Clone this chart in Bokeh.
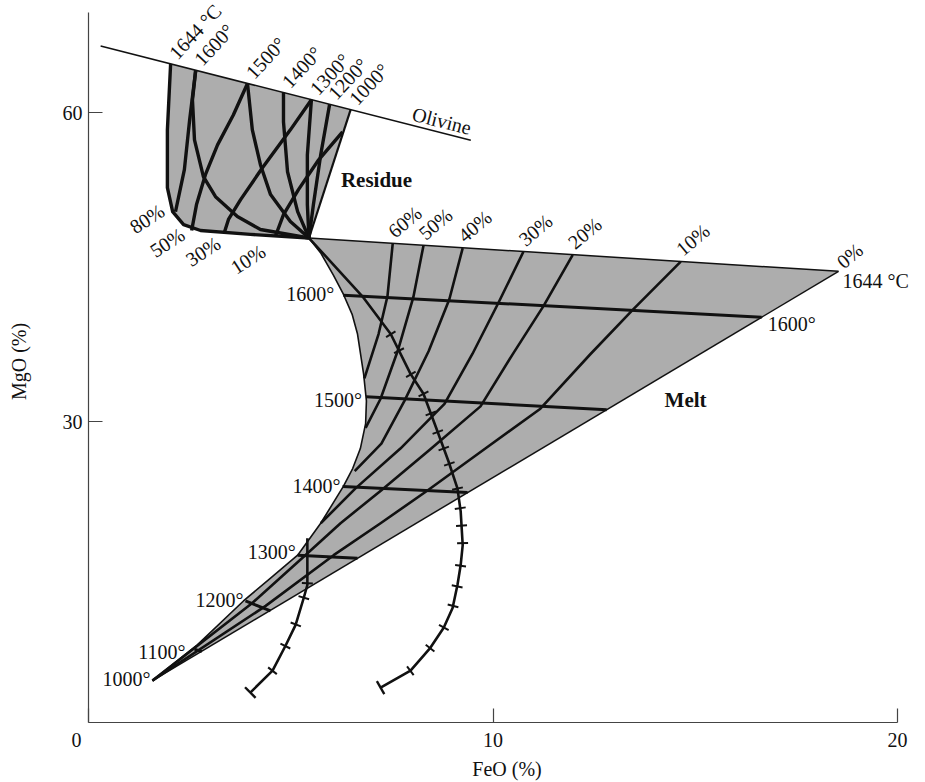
import numpy as np
from bokeh.plotting import figure
from bokeh.models import Range1d, FixedTicker, Label
from bokeh.embed import file_html
from bokeh.resources import INLINE

# ---------------------------------------------------------------- data
# Axis extents and ticks (wt %); the view runs a little past the axes
feo_range = [0.0, 20.0]
mgo_range = [0.77, 69.77]
feo_view = [0.0, 20.69]
mgo_view = [0.77, 70.93]
feo_ticks = [0, 10, 20]
mgo_ticks = [30, 60]

# Olivine compositional line
olivine_x = [0.30, 9.45]
olivine_y = [66.50, 57.35]

# Source composition: shared corner of the residue and melt fields
source_x = 5.45
source_y = 47.85

# Residue field: olivine reached at each temperature
olv_labels = ["1644 °C", "1600°", "1500°", "1400°", "1300°", "1200°", "1000°"]
olv_x = [2.03, 2.65, 3.93, 4.82, 5.51, 5.96, 6.48]
olv_y = [64.77, 64.15, 62.87, 61.98, 61.29, 60.84, 60.32]

# Residue field: lower / left boundary, from the source up to the olivine line
res_edge_x = [5.45, 4.00, 2.77, 2.35, 2.08, 1.95, 1.95, 2.03]
res_edge_y = [47.85, 48.20, 48.58, 49.16, 50.42, 52.74, 58.36, 64.77]

# Residue isotherms
res_t1600_x = [2.65, 2.57, 2.62, 2.84, 3.14, 3.68, 4.25, 5.45]
res_t1600_y = [64.15, 61.26, 57.39, 53.81, 51.87, 49.94, 48.68, 47.85]
res_t1500_x = [3.93, 4.05, 4.25, 4.50, 4.99, 5.45]
res_t1500_y = [62.87, 58.36, 54.97, 52.07, 49.45, 47.85]
res_t1400_x = [4.82, 4.82, 4.92, 5.17, 5.45]
res_t1400_y = [61.98, 59.13, 54.29, 50.42, 47.85]
res_t1300_x = [5.51, 5.41, 5.41, 5.45]
res_t1300_y = [61.29, 55.94, 51.10, 47.85]
res_t1200_x = [5.96, 5.74, 5.56, 5.45]
res_t1200_y = [60.84, 55.94, 51.10, 47.85]

# Residue lines of equal melt fraction
res_pct_labels = ["80%", "50%", "30%", "10%"]
res_f80_x = [2.65, 2.50, 2.37, 2.15]
res_f80_y = [64.15, 59.32, 54.49, 50.40]
res_f50_x = [3.93, 3.58, 3.19, 2.89, 2.67, 2.55]
res_f50_y = [62.87, 59.81, 56.90, 54.00, 51.10, 48.58]
res_f30_x = [5.51, 4.99, 4.30, 3.76, 3.46, 3.36]
res_f30_y = [61.29, 58.36, 54.68, 51.58, 49.65, 48.40]
res_f10_x = [6.28, 5.69, 5.19, 4.82, 4.62]
res_f10_y = [58.16, 55.45, 52.55, 50.13, 48.02]

# Melt field: 0 % melt edge (1644 °C corner down to the 1000° corner)
melt_right_x = [18.54, 1.58]
melt_right_y = [44.61, 4.84]

# Melt field: left boundary, from the source down to the 1000° corner
melt_left_x = [5.45, 5.74, 6.06, 6.30, 6.52, 6.65, 6.80, 6.87, 6.85, 6.72, 6.53, 6.30,
               5.74, 5.17, 4.50, 3.83, 2.69, 1.58]
melt_left_y = [47.85, 46.40, 44.20, 42.39, 40.40, 38.52, 34.65, 32.03, 29.81, 27.39, 25.45, 23.71,
               20.13, 17.03, 14.81, 12.58, 8.32, 4.84]

# Melt isotherms (left boundary to 0 % edge)
melt_t_labels = ["1600°", "1500°", "1400°", "1300°", "1200°", "1100°"]
melt_t1600_x = [6.30, 16.64]
melt_t1600_y = [42.29, 40.16]
melt_t1500_x = [6.86, 12.81]
melt_t1500_y = [32.42, 31.16]
melt_t1400_x = [6.28, 9.37]
melt_t1400_y = [23.71, 23.13]
melt_t1300_x = [5.17, 6.65]
melt_t1300_y = [17.03, 16.74]
melt_t1200_x = [3.88, 4.50]
melt_t1200_y = [12.58, 11.61]
melt_t1100_x = [2.62, 2.80]
melt_t1100_y = [7.90, 7.65]

# Melt lines of equal melt fraction
melt_pct_labels = ["60%", "50%", "40%", "30%", "20%", "10%"]
melt_f60_x = [7.52, 7.39, 7.17, 6.82]
melt_f60_y = [47.30, 42.19, 38.52, 34.20]
melt_f50_x = [8.28, 8.03, 7.66, 7.22, 6.85]
melt_f50_y = [47.11, 42.10, 37.07, 32.23, 29.40]
melt_f40_x = [9.25, 8.92, 8.41, 7.81, 7.24, 6.58]
melt_f40_y = [46.87, 41.90, 36.87, 32.03, 27.87, 25.20]
melt_f30_x = [10.75, 10.14, 9.49, 8.80, 7.71, 6.60, 5.74]
melt_f30_y = [46.51, 41.61, 36.58, 31.74, 27.39, 23.52, 20.13]
melt_f20_x = [11.97, 11.25, 10.48, 9.69, 8.45, 7.24, 6.23, 5.36, 4.05, 1.58]
melt_f20_y = [46.21, 41.26, 36.52, 31.49, 27.32, 23.35, 20.13, 17.03, 12.39, 4.84]
melt_f10_x = [14.64, 13.47, 12.41, 11.17, 9.81, 8.38, 7.22, 6.06, 4.38, 1.58]
melt_f10_y = [45.56, 40.94, 36.58, 31.26, 27.39, 23.32, 20.13, 17.03, 12.10, 4.84]

# Ticked melt-composition paths
path_a_x = [5.45, 6.77, 7.47, 7.96, 8.28, 8.63, 8.90, 9.12, 9.20, 9.25, 9.20, 9.12, 9.00, 8.78, 8.45, 7.96, 7.22]
path_a_y = [47.85, 42.19, 38.52, 34.65, 32.71, 29.03, 26.13, 23.52, 21.29, 18.00, 16.07, 14.13, 11.90, 9.97, 8.03, 5.81, 4.16]
path_a_ticks = [38.5, 36.9, 34.6, 32.7, 30.8, 29.0, 27.4, 25.9, 23.5, 21.6, 19.9, 18.2, 16.0, 14.0, 12.1, 10.0, 8.0, 5.8]
path_b_x = [5.41, 5.41, 5.32, 5.12, 4.87, 4.55, 4.00]
path_b_y = [18.68, 14.13, 12.87, 10.26, 8.23, 5.81, 3.68]
path_b_ticks = [14.3, 12.9, 10.3, 8.2, 5.8]

# ---------------------------------------------------------------- style
W, H = 925, 782
BL, BB = 88, 57
FONT = "Liberation Serif"
INK = "#111111"
SHADE = "#adadad"
NUM = "20px"

SX = (W - BL) / (feo_view[1] - feo_view[0])
SY = (H - BB) / (mgo_view[1] - mgo_view[0])

p = figure(width=W, height=H,
           x_range=Range1d(*feo_view), y_range=Range1d(*mgo_view),
           output_backend="svg", toolbar_location=None,
           min_border_left=BL, min_border_right=0,
           min_border_top=0, min_border_bottom=BB)
p.xgrid.visible = False
p.ygrid.visible = False
p.outline_line_color = None
p.background_fill_color = "white"
p.border_fill_color = "white"

for ax, ticks, label, bounds in ((p.xaxis[0], feo_ticks, "FeO (%)", feo_range),
                                 (p.yaxis[0], mgo_ticks, "MgO (%)", mgo_range)):
    ax.ticker = FixedTicker(ticks=ticks)
    ax.bounds = tuple(bounds)
    ax.axis_label = label
    ax.axis_line_color = "#444444"
    ax.axis_line_width = 1.2
    ax.major_tick_line_color = "#444444"
    ax.major_tick_line_width = 1.2
    ax.major_tick_in = 14
    ax.major_tick_out = 0
    ax.minor_tick_line_color = None
    ax.major_label_text_font = FONT
    ax.major_label_text_font_size = "20px"
    ax.major_label_text_color = INK
    ax.axis_label_text_font = FONT
    ax.axis_label_text_font_size = "20px"
    ax.axis_label_text_font_style = "normal"
    ax.axis_label_text_color = INK
    ax.major_label_standoff = 6
# the shared origin label sits in the corner, left of the vertical axis
p.xaxis[0].major_label_overrides = {0: "0\u2003\u2009"}
p.xaxis[0].axis_label_standoff = 4
p.yaxis[0].axis_label_standoff = 30

# ---- shaded fields
res_px = [olv_x[0], olv_x[-1]] + res_edge_x
res_py = [olv_y[0], olv_y[-1]] + res_edge_y
p.patch(res_px, res_py, fill_color=SHADE, line_color=None)

melt_px = [source_x] + melt_right_x + melt_left_x[::-1]
melt_py = [source_y] + melt_right_y + melt_left_y[::-1]
p.patch(melt_px, melt_py, fill_color=SHADE, line_color=None)

# ---- boundaries
p.line(olivine_x, olivine_y, line_color=INK, line_width=1.5)
p.line(res_edge_x, res_edge_y, line_color=INK, line_width=3.4, line_join="round")
p.line([olv_x[-1], source_x], [olv_y[-1], source_y], line_color=INK, line_width=2.2)
p.line([source_x, melt_right_x[0]], [source_y, melt_right_y[0]], line_color=INK, line_width=1.5)
p.line(melt_right_x, melt_right_y, line_color=INK, line_width=1.5)
p.line(melt_left_x, melt_left_y, line_color=INK, line_width=1.6, line_join="round")

# ---- residue grid
res_lines_x = [res_t1600_x, res_t1500_x, res_t1400_x, res_t1300_x, res_t1200_x,
               res_f80_x, res_f50_x, res_f30_x, res_f10_x]
res_lines_y = [res_t1600_y, res_t1500_y, res_t1400_y, res_t1300_y, res_t1200_y,
               res_f80_y, res_f50_y, res_f30_y, res_f10_y]
p.multi_line(res_lines_x, res_lines_y, line_color=INK, line_width=3.4, line_join="round")

# ---- melt grid
melt_iso_x = [melt_t1600_x, melt_t1500_x, melt_t1400_x, melt_t1300_x, melt_t1200_x, melt_t1100_x]
melt_iso_y = [melt_t1600_y, melt_t1500_y, melt_t1400_y, melt_t1300_y, melt_t1200_y, melt_t1100_y]
p.multi_line(melt_iso_x, melt_iso_y, line_color=INK, line_width=3.0)

melt_pct_x = [melt_f60_x, melt_f50_x, melt_f40_x, melt_f30_x, melt_f20_x, melt_f10_x]
melt_pct_y = [melt_f60_y, melt_f50_y, melt_f40_y, melt_f30_y, melt_f20_y, melt_f10_y]
p.multi_line(melt_pct_x, melt_pct_y, line_color=INK, line_width=2.6, line_join="round")


# ---- ticked paths
def cross_marks(cx, cy, at_y, half_px):
    cx = np.asarray(cx, float)
    cy = np.asarray(cy, float)
    o = np.argsort(cy)
    ys = np.asarray(at_y, float)
    xs = np.interp(ys, cy[o], cx[o])
    d = 0.3
    tx = (np.interp(ys + d, cy[o], cx[o]) - np.interp(ys - d, cy[o], cx[o])) * SX
    ty = 2 * d * SY
    n = np.hypot(tx, ty)
    nx, ny = -ty / n, tx / n
    return (xs - nx * half_px / SX, ys - ny * half_px / SY,
            xs + nx * half_px / SX, ys + ny * half_px / SY)


def end_cap(cx, cy, half_px):
    tx = (cx[-1] - cx[-2]) * SX
    ty = (cy[-1] - cy[-2]) * SY
    n = np.hypot(tx, ty)
    nx, ny = -ty / n, tx / n
    return ([cx[-1] - nx * half_px / SX], [cy[-1] - ny * half_px / SY],
            [cx[-1] + nx * half_px / SX], [cy[-1] + ny * half_px / SY])


for px_, py_, ticks in ((path_a_x, path_a_y, path_a_ticks), (path_b_x, path_b_y, path_b_ticks)):
    p.line(px_, py_, line_color=INK, line_width=2.6, line_join="round")
    x0, y0, x1, y1 = cross_marks(px_, py_, ticks, 5.5)
    p.segment(x0, y0, x1, y1, line_color=INK, line_width=2.0)
    x0, y0, x1, y1 = end_cap(px_, py_, 7.5)
    p.segment(x0, y0, x1, y1, line_color=INK, line_width=2.4)


# ---- labels
def add_label(x, y, text, dx=0, dy=0, angle=0.0, align="left", baseline="middle",
              size=NUM, style="normal"):
    p.add_layout(Label(x=x, y=y, text=text, x_offset=dx, y_offset=dy,
                       angle=angle, angle_units="deg",
                       text_align=align, text_baseline=baseline,
                       text_font=FONT, text_font_size=size,
                       text_font_style=style, text_color=INK))


# residue: temperatures on the olivine line
for x, y, t in zip(olv_x, olv_y, olv_labels):
    add_label(x, y, t, dx=2, dy=8, angle=47)

# residue: melt fractions at the lower boundary
res_ends = [(res_f80_x[-1], res_f80_y[-1]), (res_f50_x[-1], res_f50_y[-1]),
            (res_f30_x[-1], res_f30_y[-1]), (res_f10_x[-1], res_f10_y[-1])]
res_offsets = [(-13, 3), (-9, -2), (-6, -9), (-12, -13)]
for (x, y), t, (dx, dy) in zip(res_ends, res_pct_labels, res_offsets):
    add_label(x, y, t, dx=dx, dy=dy, angle=33, align="right")

# melt: melt fractions along the upper edge
melt_tops = [(melt_f60_x[0], melt_f60_y[0]), (melt_f50_x[0], melt_f50_y[0]),
             (melt_f40_x[0], melt_f40_y[0]), (melt_f30_x[0], melt_f30_y[0]),
             (melt_f20_x[0], melt_f20_y[0]), (melt_f10_x[0], melt_f10_y[0])]
for (x, y), t in zip(melt_tops, melt_pct_labels):
    add_label(x, y, t, dx=-2, dy=10, angle=40)
add_label(melt_right_x[0], melt_right_y[0], "0%", dx=1, dy=7, angle=40)

# melt: temperatures along the left boundary
melt_lefts = [(melt_t1600_x[0], melt_t1600_y[0]), (melt_t1500_x[0], melt_t1500_y[0]),
              (melt_t1400_x[0], melt_t1400_y[0]), (melt_t1300_x[0], melt_t1300_y[0]),
              (melt_t1200_x[0], melt_t1200_y[0]), (melt_t1100_x[0], melt_t1100_y[0])]
left_offsets = [(-9, 1), (-4, -3), (-2, 0), (-2, 3), (-2, 1), (-9, -3)]
for (x, y), t, (dx, dy) in zip(melt_lefts, melt_t_labels, left_offsets):
    add_label(x, y, t, dx=dx, dy=dy, align="right")
add_label(melt_right_x[-1], melt_right_y[-1], "1000°", dx=-2, dy=2, align="right")

# melt: temperatures on the 0 % edge
add_label(melt_right_x[0], melt_right_y[0], "1644 °C", dx=4, dy=-10)
add_label(melt_t1600_x[-1], melt_t1600_y[-1], "1600°", dx=6, dy=-7)

# olivine line name, set along the line
olv_angle = np.degrees(np.arctan2((olivine_y[1] - olivine_y[0]) * SY,
                                  (olivine_x[1] - olivine_x[0]) * SX))
add_label(olivine_x[1], olivine_y[1], "Olivine", dx=0, dy=12, angle=olv_angle,
          align="right", size="20px")

# field names
add_label(7.12, 53.5, "Residue", align="center", size="21px", style="bold")
add_label(14.76, 32.13, "Melt", align="center", size="21px", style="bold")

open("out.html", "w").write(file_html(p, INLINE))
